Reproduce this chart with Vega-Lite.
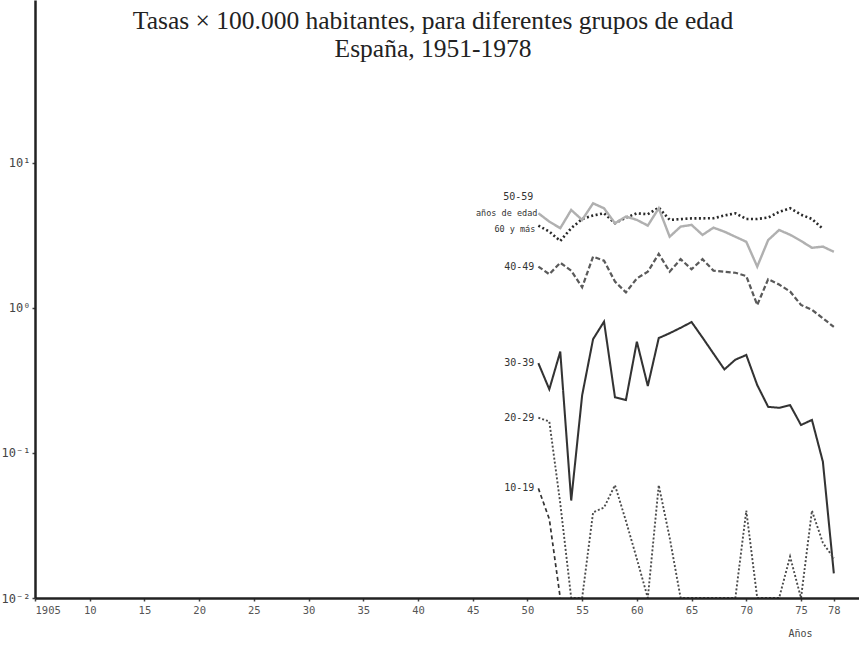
{
  "$schema": "https://vega.github.io/schema/vega-lite/v6.json",
  "autosize": {"type": "none"},
  "padding": {"left": 35, "top": 0, "right": 0, "bottom": 48},
  "width": 824,
  "height": 598,
  "background": "white",
  "config": {"view": {"stroke": null}},
  "title": {
    "text": ["Tasas × 100.000 habitantes, para diferentes grupos de edad", "España, 1951-1978"],
    "font": "Liberation Serif",
    "fontSize": 25.5,
    "fontWeight": "normal",
    "lineHeight": 28,
    "offset": -62,
    "dx": -14,
    "color": "#222",
    "anchor": "middle",
    "frame": "group"
  },
  "datasets": {
    "series": [
      {"grupo": "60 y más", "year": 1951, "value": 3.70},
      {"grupo": "60 y más", "year": 1952, "value": 3.36},
      {"grupo": "60 y más", "year": 1953, "value": 2.90},
      {"grupo": "60 y más", "year": 1954, "value": 3.55},
      {"grupo": "60 y más", "year": 1955, "value": 4.11},
      {"grupo": "60 y más", "year": 1956, "value": 4.34},
      {"grupo": "60 y más", "year": 1957, "value": 4.50},
      {"grupo": "60 y más", "year": 1958, "value": 3.84},
      {"grupo": "60 y más", "year": 1959, "value": 4.20},
      {"grupo": "60 y más", "year": 1960, "value": 4.50},
      {"grupo": "60 y más", "year": 1961, "value": 4.43},
      {"grupo": "60 y más", "year": 1962, "value": 4.92},
      {"grupo": "60 y más", "year": 1963, "value": 4.05},
      {"grupo": "60 y más", "year": 1964, "value": 4.10},
      {"grupo": "60 y más", "year": 1965, "value": 4.15},
      {"grupo": "60 y más", "year": 1966, "value": 4.15},
      {"grupo": "60 y más", "year": 1967, "value": 4.16},
      {"grupo": "60 y más", "year": 1968, "value": 4.34},
      {"grupo": "60 y más", "year": 1969, "value": 4.50},
      {"grupo": "60 y más", "year": 1970, "value": 4.11},
      {"grupo": "60 y más", "year": 1971, "value": 4.11},
      {"grupo": "60 y más", "year": 1972, "value": 4.20},
      {"grupo": "60 y más", "year": 1973, "value": 4.60},
      {"grupo": "60 y más", "year": 1974, "value": 4.87},
      {"grupo": "60 y más", "year": 1975, "value": 4.40},
      {"grupo": "60 y más", "year": 1976, "value": 4.11},
      {"grupo": "60 y más", "year": 1977, "value": 3.51},

      {"grupo": "50-59", "year": 1951, "value": 4.50},
      {"grupo": "50-59", "year": 1952, "value": 3.94},
      {"grupo": "50-59", "year": 1953, "value": 3.55},
      {"grupo": "50-59", "year": 1954, "value": 4.74},
      {"grupo": "50-59", "year": 1955, "value": 4.05},
      {"grupo": "50-59", "year": 1956, "value": 5.27},
      {"grupo": "50-59", "year": 1957, "value": 4.87},
      {"grupo": "50-59", "year": 1958, "value": 3.84},
      {"grupo": "50-59", "year": 1959, "value": 4.27},
      {"grupo": "50-59", "year": 1960, "value": 4.05},
      {"grupo": "50-59", "year": 1961, "value": 3.70},
      {"grupo": "50-59", "year": 1962, "value": 4.87},
      {"grupo": "50-59", "year": 1963, "value": 3.10},
      {"grupo": "50-59", "year": 1964, "value": 3.64},
      {"grupo": "50-59", "year": 1965, "value": 3.74},
      {"grupo": "50-59", "year": 1966, "value": 3.19},
      {"grupo": "50-59", "year": 1967, "value": 3.58},
      {"grupo": "50-59", "year": 1968, "value": 3.36},
      {"grupo": "50-59", "year": 1969, "value": 3.10},
      {"grupo": "50-59", "year": 1970, "value": 2.86},
      {"grupo": "50-59", "year": 1971, "value": 1.93},
      {"grupo": "50-59", "year": 1972, "value": 2.94},
      {"grupo": "50-59", "year": 1973, "value": 3.45},
      {"grupo": "50-59", "year": 1974, "value": 3.20},
      {"grupo": "50-59", "year": 1975, "value": 2.90},
      {"grupo": "50-59", "year": 1976, "value": 2.60},
      {"grupo": "50-59", "year": 1977, "value": 2.65},
      {"grupo": "50-59", "year": 1978, "value": 2.44},

      {"grupo": "40-49", "year": 1951, "value": 1.93},
      {"grupo": "40-49", "year": 1952, "value": 1.71},
      {"grupo": "40-49", "year": 1953, "value": 2.05},
      {"grupo": "40-49", "year": 1954, "value": 1.81},
      {"grupo": "40-49", "year": 1955, "value": 1.39},
      {"grupo": "40-49", "year": 1956, "value": 2.26},
      {"grupo": "40-49", "year": 1957, "value": 2.12},
      {"grupo": "40-49", "year": 1958, "value": 1.52},
      {"grupo": "40-49", "year": 1959, "value": 1.28},
      {"grupo": "40-49", "year": 1960, "value": 1.60},
      {"grupo": "40-49", "year": 1961, "value": 1.78},
      {"grupo": "40-49", "year": 1962, "value": 2.36},
      {"grupo": "40-49", "year": 1963, "value": 1.78},
      {"grupo": "40-49", "year": 1964, "value": 2.17},
      {"grupo": "40-49", "year": 1965, "value": 1.85},
      {"grupo": "40-49", "year": 1966, "value": 2.17},
      {"grupo": "40-49", "year": 1967, "value": 1.81},
      {"grupo": "40-49", "year": 1968, "value": 1.78},
      {"grupo": "40-49", "year": 1969, "value": 1.75},
      {"grupo": "40-49", "year": 1970, "value": 1.66},
      {"grupo": "40-49", "year": 1971, "value": 1.05},
      {"grupo": "40-49", "year": 1972, "value": 1.58},
      {"grupo": "40-49", "year": 1973, "value": 1.45},
      {"grupo": "40-49", "year": 1974, "value": 1.30},
      {"grupo": "40-49", "year": 1975, "value": 1.05},
      {"grupo": "40-49", "year": 1976, "value": 0.97},
      {"grupo": "40-49", "year": 1977, "value": 0.85},
      {"grupo": "40-49", "year": 1978, "value": 0.74},

      {"grupo": "30-39", "year": 1951, "value": 0.416},
      {"grupo": "30-39", "year": 1952, "value": 0.275},
      {"grupo": "30-39", "year": 1953, "value": 0.50},
      {"grupo": "30-39", "year": 1954, "value": 0.047},
      {"grupo": "30-39", "year": 1955, "value": 0.25},
      {"grupo": "30-39", "year": 1956, "value": 0.61},
      {"grupo": "30-39", "year": 1957, "value": 0.805},
      {"grupo": "30-39", "year": 1958, "value": 0.242},
      {"grupo": "30-39", "year": 1959, "value": 0.232},
      {"grupo": "30-39", "year": 1960, "value": 0.586},
      {"grupo": "30-39", "year": 1961, "value": 0.29},
      {"grupo": "30-39", "year": 1962, "value": 0.62},
      {"grupo": "30-39", "year": 1963, "value": 0.67},
      {"grupo": "30-39", "year": 1964, "value": 0.73},
      {"grupo": "30-39", "year": 1965, "value": 0.80},
      {"grupo": "30-39", "year": 1966, "value": 0.625},
      {"grupo": "30-39", "year": 1967, "value": 0.485},
      {"grupo": "30-39", "year": 1968, "value": 0.377},
      {"grupo": "30-39", "year": 1969, "value": 0.44},
      {"grupo": "30-39", "year": 1970, "value": 0.474},
      {"grupo": "30-39", "year": 1971, "value": 0.294},
      {"grupo": "30-39", "year": 1972, "value": 0.208},
      {"grupo": "30-39", "year": 1973, "value": 0.205},
      {"grupo": "30-39", "year": 1974, "value": 0.214},
      {"grupo": "30-39", "year": 1975, "value": 0.156},
      {"grupo": "30-39", "year": 1976, "value": 0.169},
      {"grupo": "30-39", "year": 1977, "value": 0.087},
      {"grupo": "30-39", "year": 1978, "value": 0.0148},

      {"grupo": "20-29", "year": 1951, "value": 0.175},
      {"grupo": "20-29", "year": 1952, "value": 0.165},
      {"grupo": "20-29", "year": 1953, "value": 0.045},
      {"grupo": "20-29", "year": 1954, "value": 0.01},
      {"grupo": "20-29", "year": 1955, "value": 0.01},
      {"grupo": "20-29", "year": 1956, "value": 0.039},
      {"grupo": "20-29", "year": 1957, "value": 0.042},
      {"grupo": "20-29", "year": 1958, "value": 0.060},
      {"grupo": "20-29", "year": 1959, "value": 0.034},
      {"grupo": "20-29", "year": 1960, "value": 0.0186},
      {"grupo": "20-29", "year": 1961, "value": 0.01},
      {"grupo": "20-29", "year": 1962, "value": 0.060},
      {"grupo": "20-29", "year": 1963, "value": 0.026},
      {"grupo": "20-29", "year": 1964, "value": 0.01},
      {"grupo": "20-29", "year": 1965, "value": 0.01},
      {"grupo": "20-29", "year": 1966, "value": 0.01},
      {"grupo": "20-29", "year": 1967, "value": 0.01},
      {"grupo": "20-29", "year": 1968, "value": 0.01},
      {"grupo": "20-29", "year": 1969, "value": 0.01},
      {"grupo": "20-29", "year": 1970, "value": 0.040},
      {"grupo": "20-29", "year": 1971, "value": 0.01},
      {"grupo": "20-29", "year": 1972, "value": 0.01},
      {"grupo": "20-29", "year": 1973, "value": 0.01},
      {"grupo": "20-29", "year": 1974, "value": 0.0193},
      {"grupo": "20-29", "year": 1975, "value": 0.01},
      {"grupo": "20-29", "year": 1976, "value": 0.040},
      {"grupo": "20-29", "year": 1977, "value": 0.024},
      {"grupo": "20-29", "year": 1978, "value": 0.0188},

      {"grupo": "10-19", "year": 1951, "value": 0.057},
      {"grupo": "10-19", "year": 1952, "value": 0.035},
      {"grupo": "10-19", "year": 1953, "value": 0.01}
    ],
    "labels": [
      {"kind": "num", "label": "40-49", "year": 1951, "value": 1.93},
      {"kind": "num", "label": "30-39", "year": 1951, "value": 0.416},
      {"kind": "num", "label": "20-29", "year": 1951, "value": 0.175},
      {"kind": "num", "label": "10-19", "year": 1951, "value": 0.057},
      {"kind": "head", "label": "50-59", "year": 1951, "value": 4.50},
      {"kind": "word", "label": "años de edad", "year": 1951, "value": 4.50},
      {"kind": "word2", "label": "60 y más", "year": 1951, "value": 3.70}
    ]
  },
  "layer": [
    {
      "data": {"name": "series"},
      "mark": {"type": "line", "strokeCap": "butt", "strokeJoin": "miter"},
      "encoding": {
        "x": {
          "field": "year", "type": "quantitative",
          "scale": {"domain": [1905, 1980.3], "zero": false, "nice": false},
          "axis": {
            "title": "Años",
            "titleFont": "DejaVu Sans Mono",
            "titleFontSize": 10,
            "titleFontWeight": "normal",
            "titleColor": "#444",
            "titleX": 765,
            "titleY": 35,
            "titleAlign": "center",
            "titleBaseline": "middle",
            "values": [1905, 1910, 1915, 1920, 1925, 1930, 1935, 1940, 1945, 1950, 1955, 1960, 1965, 1970, 1975, 1978],
            "labelExpr": "datum.value == 1905 ? '1905' : substring(toString(datum.value), 2)",
            "labelFont": "DejaVu Sans Mono",
            "labelFontSize": 10.5,
            "labelColor": "#555",
            "labelPadding": 4,
            "labelOverlap": false,
            "domainColor": "#222",
            "domainWidth": 2.5,
            "tickColor": "#444",
            "tickSize": 3,
            "tickWidth": 1.5,
            "grid": false,
            "zindex": 1
          }
        },
        "y": {
          "field": "value", "type": "quantitative",
          "scale": {"type": "log", "domain": [0.01, 133], "nice": false},
          "axis": {
            "title": null,
            "values": [0.01, 0.1, 1, 10],
            "labelExpr": "datum.value == 10 ? '10¹' : datum.value == 1 ? '10⁰' : datum.value == 0.1 ? '10⁻¹' : '10⁻²'",
            "labelFont": "DejaVu Sans Mono",
            "labelFontSize": 12,
            "labelColor": "#444",
            "labelPadding": 2,
            "domainColor": "#222",
            "domainWidth": 2.5,
            "tickColor": "#444",
            "tickSize": 3,
            "tickWidth": 1.5,
            "grid": false,
            "zindex": 1
          }
        },
        "detail": {"field": "grupo"},
        "color": {
          "field": "grupo", "type": "nominal", "legend": null,
          "scale": {
            "domain": ["60 y más", "50-59", "40-49", "30-39", "20-29", "10-19"],
            "range": ["#2a2a2a", "#b0b0b0", "#5a5a5a", "#333333", "#4a4a4a", "#333333"]
          }
        },
        "strokeDash": {
          "field": "grupo", "type": "nominal", "legend": null,
          "scale": {
            "domain": ["60 y más", "50-59", "40-49", "30-39", "20-29", "10-19"],
            "range": [[2, 2.5], [1, 0], [5, 2.5], [1, 0], [2, 2], [4, 3]]
          }
        },
        "strokeWidth": {
          "field": "grupo", "type": "nominal", "legend": null,
          "scale": {
            "domain": ["60 y más", "50-59", "40-49", "30-39", "20-29", "10-19"],
            "range": [2.6, 1.7, 2.0, 1.6, 2.2, 1.6]
          }
        }
      }
    },
    {
      "data": {"name": "labels"},
      "transform": [{"filter": "datum.kind == 'num'"}],
      "mark": {"type": "text", "align": "right", "baseline": "middle", "dx": -4, "font": "DejaVu Sans Mono", "fontSize": 10, "color": "#333"},
      "encoding": {
        "x": {"field": "year", "type": "quantitative"},
        "y": {"field": "value", "type": "quantitative"},
        "text": {"field": "label"}
      }
    },
    {
      "data": {"name": "labels"},
      "transform": [{"filter": "datum.kind == 'head'"}],
      "mark": {"type": "text", "align": "right", "baseline": "middle", "dx": -5, "dy": -16, "font": "DejaVu Sans Mono", "fontSize": 10, "color": "#333"},
      "encoding": {
        "x": {"field": "year", "type": "quantitative"},
        "y": {"field": "value", "type": "quantitative"},
        "text": {"field": "label"}
      }
    },
    {
      "data": {"name": "labels"},
      "transform": [{"filter": "datum.kind == 'word'"}],
      "mark": {"type": "text", "align": "right", "baseline": "middle", "dx": -1, "dy": 0, "font": "DejaVu Sans Mono", "fontSize": 8.5, "color": "#333"},
      "encoding": {
        "x": {"field": "year", "type": "quantitative"},
        "y": {"field": "value", "type": "quantitative"},
        "text": {"field": "label"}
      }
    },
    {
      "data": {"name": "labels"},
      "transform": [{"filter": "datum.kind == 'word2'"}],
      "mark": {"type": "text", "align": "right", "baseline": "middle", "dx": -3, "dy": 3, "font": "DejaVu Sans Mono", "fontSize": 8.5, "color": "#333"},
      "encoding": {
        "x": {"field": "year", "type": "quantitative"},
        "y": {"field": "value", "type": "quantitative"},
        "text": {"field": "label"}
      }
    }
  ]
}
